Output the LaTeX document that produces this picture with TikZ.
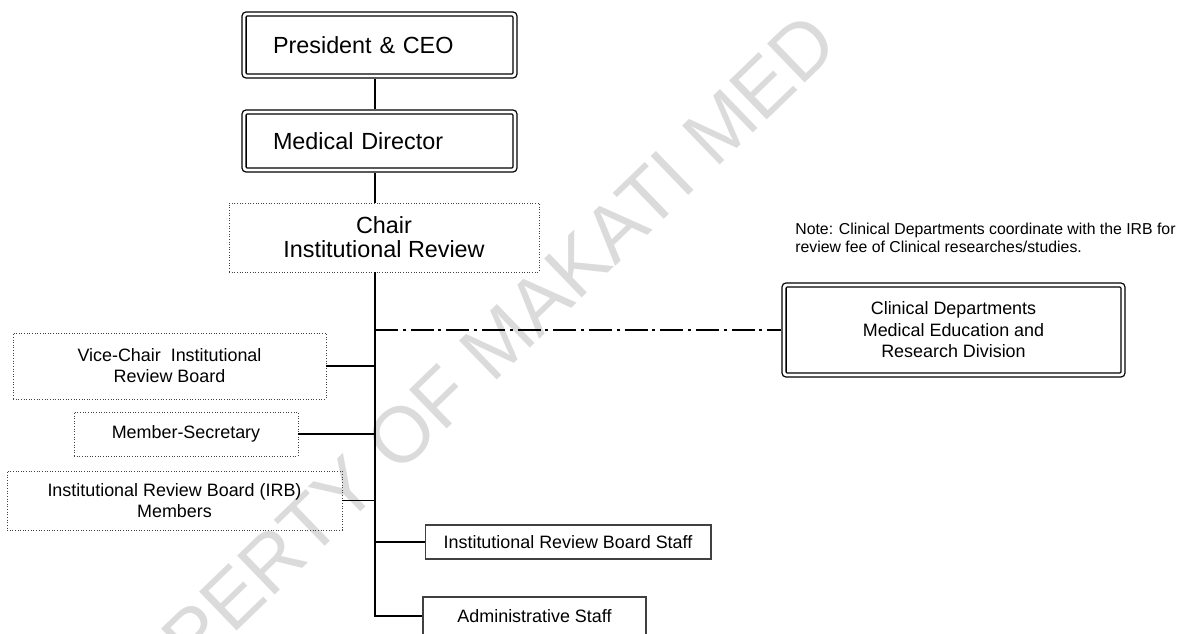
\documentclass[tikz,border=0pt]{standalone}
\usepackage{fontspec}
\setmainfont{Liberation Sans}

\begin{document}
\begin{tikzpicture}[x=0.02cm, y=-0.02cm,
    dblbox/.style={draw, line width=0.75pt, double, double distance=1.6pt, rounded corners=1.5pt, inner sep=0pt},
    dotbox/.style={draw=black!75, densely dotted, line width=0.5pt, align=center, inner sep=0pt, font=\fontsize{10.2}{12}\selectfont},
    plainbox/.style={draw=black!75, line width=0.6pt, inner sep=0pt, font=\fontsize{10.2}{12}\selectfont},
    link/.style={line width=0.9pt},
    dashdot/.style={line width=1.6pt, dash pattern=on 13pt off 2.8pt on 1.7pt off 2.8pt}]
    \useasboundingbox (0,0) rectangle (1181,633);
    \clip (0,0) rectangle (1181,633);
    % watermark
    \node [rotate=44, anchor=base west, inner sep=0pt, text=black!14, font=\fontsize{44.8}{44.8}\selectfont] (mark) at (72,791) {PROPERTY OF MAKATI MED};
    \coordinate (spine) at (375,0);
    \draw (379.5,45) node [dblbox, minimum width=5.42cm, minimum height=1.24cm, text width=4.26cm, inner xsep=0.58cm, align=left, font=\fontsize{13.3}{13.8}\selectfont] (ceo) {President \& CEO};
    \draw (379.5,141) node [dblbox, minimum width=5.42cm, minimum height=1.16cm, text width=4.26cm, inner xsep=0.58cm, align=left, font=\fontsize{13.3}{13.8}\selectfont] (meddir) {Medical Director};
    \draw (384,237.5) node [dotbox, minimum width=6.2cm, minimum height=1.38cm, font=\fontsize{13.3}{13.8}\selectfont] (chair) {Chair\\Institutional Review};
    \draw (169.5,366) node [dotbox, minimum width=6.26cm, minimum height=1.32cm] (vice) {Vice-Chair\ \ Institutional\\Review Board};
    \draw (186,434) node [dotbox, minimum width=4.48cm, minimum height=0.88cm] (secretary) {Member-Secretary};
    \draw (174.5,500.5) node [dotbox, minimum width=6.7cm, minimum height=1.18cm] (members) {Institutional Review Board (IRB)\\Members};
    \draw (568,542) node [plainbox, minimum width=5.72cm, minimum height=0.68cm] (staff) {Institutional Review Board Staff};
    \draw (534.5,616) node [plainbox, minimum width=4.46cm, minimum height=0.76cm] (admin) {Administrative Staff};
    \draw (953.5,330) node [dblbox, minimum width=6.78cm, minimum height=1.8cm, align=center, font=\fontsize{10.2}{12.2}\selectfont] (clinical) {Clinical Departments\\Medical Education and\\Research Division};
    \draw (795,223) node [anchor=north west, inner sep=0pt, align=left, font=\fontsize{9}{10.2}\selectfont] (note) {Note: Clinical Departments coordinate with the IRB for\\review fee of Clinical researches/studies.};
    \path [link, shorten <=1.6pt, shorten >=1.6pt] (ceo.south -| spine) edge (meddir.north -| spine);
    \path [link, shorten <=1.6pt] (meddir.south -| spine) edge (chair.north -| spine);
    \draw [link] (chair.south -| spine) |- (admin.west);
    \draw [link] (vice.east) -- (vice.east -| spine);
    \draw [link] (secretary.east) -- (secretary.east -| spine);
    \draw [link] (members.east) -- (members.east -| spine);
    \draw [link] (staff.west -| spine) -- (staff.west);
    \draw [dashdot, shorten >=1.6pt] (clinical.west -| spine) -- (clinical.west);
\end{tikzpicture}
\end{document}
